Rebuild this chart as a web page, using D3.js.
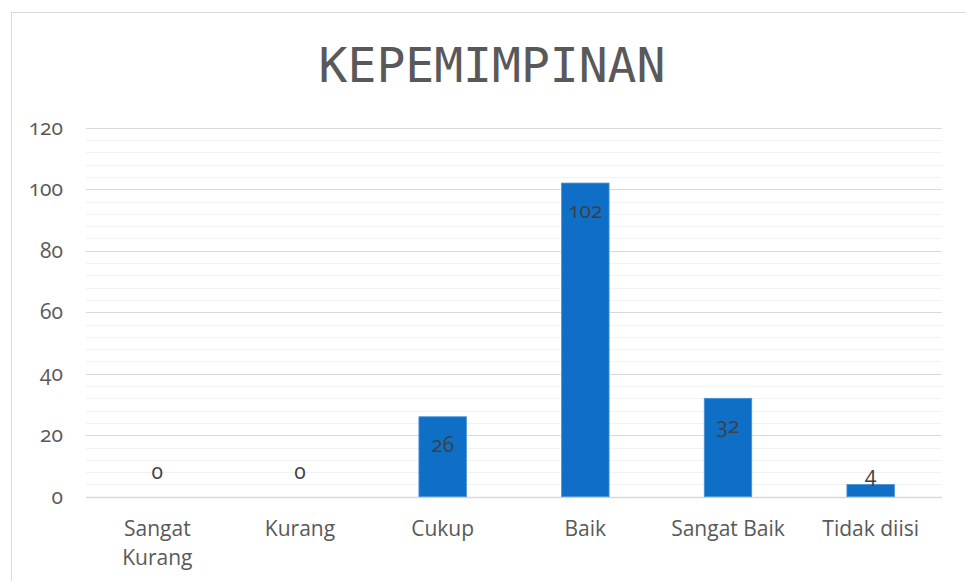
<!DOCTYPE html>
<html>
<head>
<meta charset="utf-8">
<script src="https://cdn.jsdelivr.net/npm/d3@7"></script>
<style>
  body { margin: 0; background: #fff; }
  text { font-family: "Open Sans", "Noto Sans", sans-serif; }
  .num { font-variant-numeric: oldstyle-nums; }
</style>
</head>
<body>
<div id="my_dataviz"></div>
<script>
// data
var categories = ["Sangat Kurang", "Kurang", "Cukup", "Baik", "Sangat Baik", "Tidak diisi"]
var values = [0, 0, 26, 102, 32, 4]
var yTicks = [0, 20, 40, 60, 80, 100, 120]

var width = 966
    height = 581

var svg = d3.select("#my_dataviz")
  .append("svg")
    .attr("width", width)
    .attr("height", height)

// chart frame
svg.append("rect")
  .attr("x", 11.5)
  .attr("y", 12.5)
  .attr("width", 1000)
  .attr("height", 1000)
  .attr("fill", "#fff")
  .attr("stroke", "#d9d9d9")

// title
svg.append("text")
  .attr("x", 492)
  .attr("y", 82)
  .attr("text-anchor", "middle")
  .style("font-family", "'DejaVu Sans Mono', monospace")
  .style("font-size", "48px")
  .style("fill", "#595959")
  .text("KEPEMIMPINAN")

// scales
var x = d3.scaleBand()
  .domain(categories)
  .range([86, 942])
  .paddingInner(0.667)
  .paddingOuter(0.3335)

var y = d3.scaleLinear()
  .domain([0, 120])
  .range([496.7, 127.7])

// minor gridlines every 4
svg.append("g")
  .selectAll("line")
  .data(d3.range(4, 120, 4).filter(function(d){ return d % 20 != 0 }))
  .enter()
  .append("line")
    .attr("x1", 86)
    .attr("x2", 942)
    .attr("y1", function(d){ return Math.round(y(d)) + 0.5 })
    .attr("y2", function(d){ return Math.round(y(d)) + 0.5 })
    .attr("stroke", "#f2f2f2")
    .attr("stroke-width", 1.2)

// major gridlines
svg.append("g")
  .selectAll("line")
  .data(yTicks)
  .enter()
  .append("line")
    .attr("x1", 86)
    .attr("x2", 942)
    .attr("y1", function(d){ return Math.round(y(d)) + 0.5 })
    .attr("y2", function(d){ return Math.round(y(d)) + 0.5 })
    .attr("stroke", "#d9d9d9")
    .attr("stroke-width", function(d){ return d == 0 ? 1.6 : 1.2 })

// y axis labels
var yAxis = d3.axisLeft(y)
  .tickValues(yTicks)
  .tickSize(0)
  .tickPadding(0)
var gy = svg.append("g")
  .attr("transform", "translate(63,0)")
  .call(yAxis)
gy.select(".domain").remove()
gy.selectAll("text")
  .attr("class", "num")
  .attr("dy", "0.3em")
  .style("font-size", "21px")
  .style("font-family", "'Open Sans', sans-serif")
  .style("fill", "#595959")

// bars
svg.selectAll("mybars")
  .data(values)
  .enter()
  .append("rect")
    .attr("x", function(d, i){ return x(categories[i]) })
    .attr("y", function(d){ return y(d) })
    .attr("width", x.bandwidth())
    .attr("height", function(d){ return y(0) - y(d) })
    .attr("fill", "#0f6fc6")
    .attr("stroke", "#4d94d6")
    .attr("stroke-width", function(d){ return d > 0 ? 0.8 : 0 })

// data labels (inside end, or above when the bar is too short)
svg.selectAll("mylabels")
  .data(values)
  .enter()
  .append("text")
    .attr("class", "num")
    .attr("x", function(d, i){ return x(categories[i]) + x.bandwidth() / 2 })
    .attr("y", function(d){
      if (d == 0) return y(0) - 18
      if (y(0) - y(d) < 40) return y(d) - 2
      return y(d) + 35
    })
    .attr("text-anchor", "middle")
    .style("font-size", "21px")
    .style("fill", "#404040")
    .text(function(d){ return d })

// category labels, wrapped to the band
var xAxis = d3.axisBottom(x).tickSize(0).tickPadding(0)
var gx = svg.append("g")
  .attr("transform", "translate(0,536)")
  .call(xAxis)
gx.select(".domain").remove()
gx.selectAll("text")
  .attr("dy", 0)
  .attr("y", 0)
  .style("font-size", "21px")
  .style("font-family", "'Open Sans', sans-serif")
  .style("fill", "#595959")
  .call(wrap, x.step() - 12)

function wrap(texts, w) {
  texts.each(function() {
    var text = d3.select(this)
    var words = text.text().split(" ")
    text.text(null)
    var line = []
    var tspan = text.append("tspan").attr("x", 0).attr("dy", 0)
    words.forEach(function(word) {
      line.push(word)
      tspan.text(line.join(" "))
      if (tspan.node().getComputedTextLength() > w && line.length > 1) {
        line.pop()
        tspan.text(line.join(" "))
        line = [word]
        tspan = text.append("tspan").attr("x", 0).attr("dy", 28.5).text(word)
      }
    })
  })
}
</script>
</body>
</html>
